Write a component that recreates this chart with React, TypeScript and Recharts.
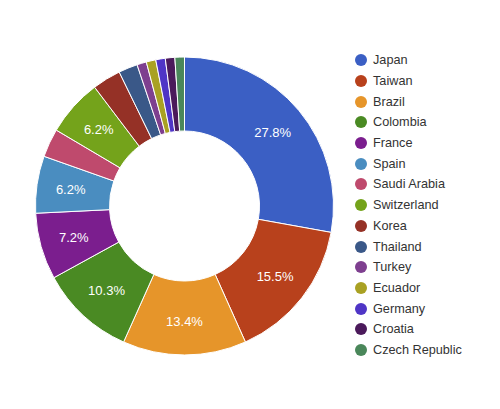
import React from 'react';
import { PieChart, Pie, Cell, Legend } from 'recharts';

const countries = [
  'Japan', 'Taiwan', 'Brazil', 'Colombia', 'France', 'Spain', 'Saudi Arabia',
  'Switzerland', 'Korea', 'Thailand', 'Turkey', 'Ecuador', 'Germany', 'Croatia', 'Czech Republic',
];
const counts = [27, 15, 13, 10, 7, 6, 3, 6, 3, 2, 1, 1, 1, 1, 1];
const colors = [
  '#3b5fc4', '#b8411c', '#e6952a', '#4a8a23', '#7b1e8e', '#4a8dc0', '#bf4a6d',
  '#74a31b', '#953126', '#3a5888', '#7e3f8f', '#a9a123', '#4f35c6', '#4b1a5b', '#4a875a',
];

const data = countries.map((name, i) => ({ name, value: counts[i] }));

const RADIAN = Math.PI / 180;

const renderLabel = (props: any) => {
  const { cx, cy, midAngle, innerRadius, outerRadius, percent } = props;
  if (percent < 0.05) return null;
  const r = (innerRadius + outerRadius) / 2 + 3;
  const x = cx + r * Math.cos(-midAngle * RADIAN);
  const y = cy + r * Math.sin(-midAngle * RADIAN);
  return (
    <text
      x={x}
      y={y}
      fill="#ffffff"
      textAnchor="middle"
      dominantBaseline="central"
      fontSize={13}
      fontFamily="Liberation Sans, Arial, sans-serif"
    >
      {(percent * 100).toFixed(1) + '%'}
    </text>
  );
};

const renderLegend = () => (
  <div style={{ fontFamily: 'Liberation Sans, Arial, sans-serif', fontSize: 12.7, color: '#333' }}>
    {countries.map((name, i) => (
      <div key={name} style={{ display: 'flex', alignItems: 'center', height: 20.7 }}>
        <span
          style={{
            display: 'inline-block',
            width: 12,
            height: 12,
            borderRadius: 6,
            background: colors[i],
            marginRight: 6,
          }}
        />
        <span>{name}</span>
      </div>
    ))}
  </div>
);

export default function App() {
  return (
    <div style={{ position: 'absolute', left: 0, top: 0, width: 500, height: 409, background: '#fff' }}>
      <PieChart width={500} height={409} margin={{ top: 0, right: 0, bottom: 0, left: 0 }}>
        <Pie
          data={data}
          dataKey="value"
          nameKey="name"
          cx={184.5}
          cy={206}
          innerRadius={75}
          outerRadius={149}
          startAngle={90}
          endAngle={-270}
          stroke="#ffffff"
          strokeWidth={1}
          label={renderLabel}
          labelLine={false}
          isAnimationActive={false}
        >
          {data.map((d, i) => (
            <Cell key={d.name} fill={colors[i]} />
          ))}
        </Pie>
        <Legend
          layout="vertical"
          align="right"
          verticalAlign="top"
          content={renderLegend}
          wrapperStyle={{ left: 355, top: 50, width: 140 }}
        />
      </PieChart>
    </div>
  );
}
